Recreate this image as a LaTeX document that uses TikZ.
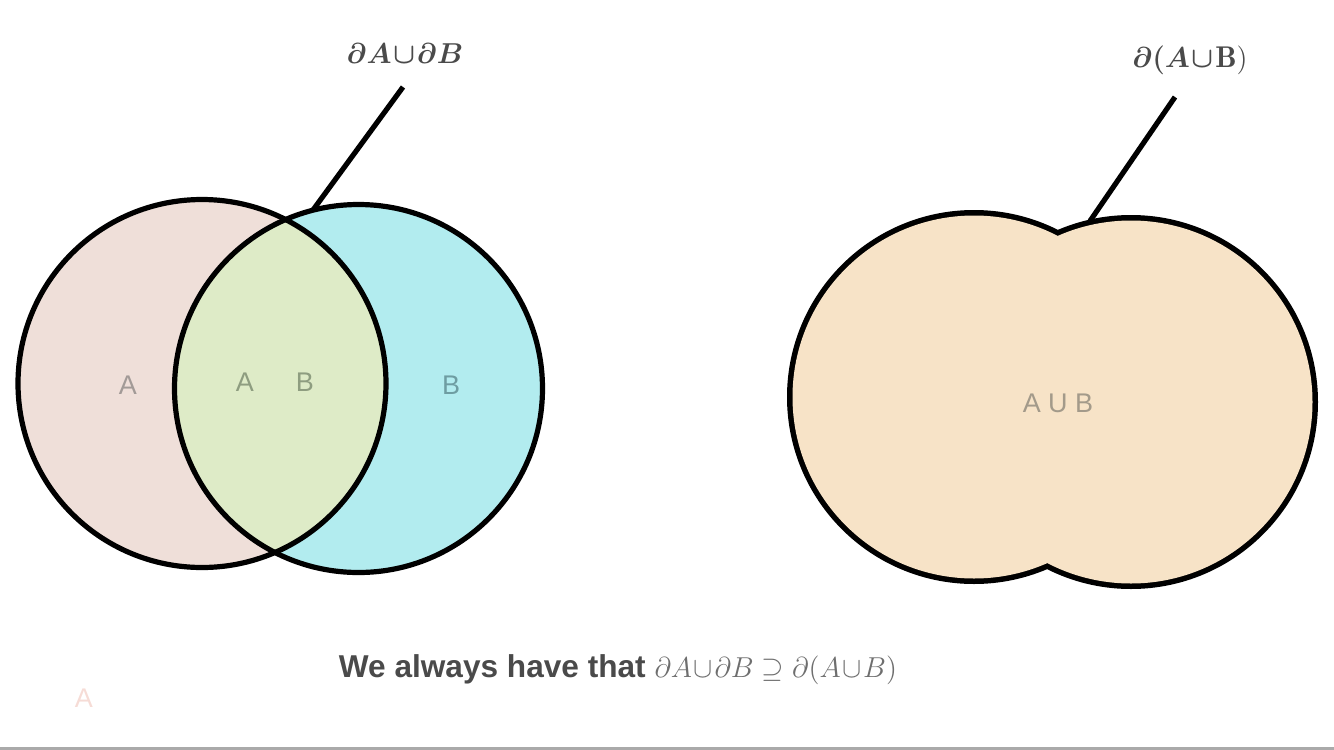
\documentclass[tikz,border=0pt]{standalone}
\usepackage{amsmath, amssymb, bm}
\usepackage{fontspec}
\setsansfont{Liberation Sans}
\usepackage{xcolor}
\usetikzlibrary{positioning}
\definecolor{FillA}{HTML}{EFDFD9}
\definecolor{FillB}{HTML}{B2ECEF}
\definecolor{FillAB}{HTML}{DEEBC7}
\definecolor{FillUnion}{HTML}{F7E3C7}
\definecolor{Ink}{HTML}{4A4A4A}
\definecolor{InkMath}{HTML}{6E6E6E}
\definecolor{TagA}{HTML}{A29A97}
\definecolor{TagAB}{HTML}{8E9D80}
\definecolor{TagB}{HTML}{6E9DA2}
\definecolor{TagU}{HTML}{A39A8A}
\definecolor{Ghost}{HTML}{F6DCD6}
\definecolor{Rule}{HTML}{AAAAAA}
\tikzset{
  rim/.style={draw=black, line width=2.6pt},
  leader/.style={line width=2.6pt, color=black},
  tag/.style={font=\fontsize{13.5}{15}\selectfont\sffamily, inner sep=0pt},
  boundary/.style={text=Ink, font=\fontsize{15}{18}\selectfont, inner sep=0pt},
}

\begin{document}
\begin{tikzpicture}[x=0.5pt, y=-0.5pt]
  \useasboundingbox (0,0) rectangle (1334,750);

  % Centres
  \coordinate (cA) at (202,383.5);
  \coordinate (cB) at (358.5,388.5);
  \coordinate (cL) at (974,397);
  \coordinate (cR) at (1131,402);

  % A and B
  \fill[FillA] (cA) circle [radius=184];
  \fill[FillB] (cB) circle [radius=184];
  \begin{scope}
    \clip (cA) circle [radius=184];
    \fill[FillAB] (cB) circle [radius=184];
  \end{scope}
  \draw[rim] (cA) circle [radius=184];
  \draw[rim] (cB) circle [radius=184];

  % A union B
  \fill[black] (cL) circle [radius=187] (cR) circle [radius=187];
  \fill[FillUnion] (cL) circle [radius=181.5] (cR) circle [radius=181.5];

  % Region labels
  \node[tag, text=TagA] (tagA) at (128,385) {A};
  \node[tag, text=TagAB] (tagAB1) at (245,382) {A};
  \node[tag, text=TagAB] (tagAB2) at (305,382) {B};
  \node[tag, text=TagB] (tagB) at (451,385) {B};
  \node[tag, text=TagU] (tagU) at (1058,403) {A U B};
  \node[tag, text=Ghost] (ghostA) at (84,698) {A};

  % Boundary labels
  \node[boundary] (bdryL) at (405,53) {$\bm{\partial A\!\cup\!\partial B}$};
  \node[boundary] (bdryR) at (1190,60) {$\bm{\partial(A\!\cup\!}\mathbf{B)}$};
  \coordinate (capL) at (403,87);
  \coordinate (footL) at (313,210);
  \coordinate (capR) at (1175,97);
  \coordinate (footR) at (1090,221);
  \draw[leader] (capL) -- (footL);
  \draw[leader] (capR) -- (footR);

  % Claim
  \node[inner sep=0pt, font=\fontsize{15.8}{18}\selectfont] (claim) at (618,670)
    {\sffamily\bfseries\color{Ink}We always have that \color{InkMath}$\partial A\!\cup\!\partial B\supseteq\partial(A\!\cup\!B)$};

  \draw[Rule, line width=1.5pt] (0,748.5) -- (1334,748.5);
\end{tikzpicture}
\end{document}
